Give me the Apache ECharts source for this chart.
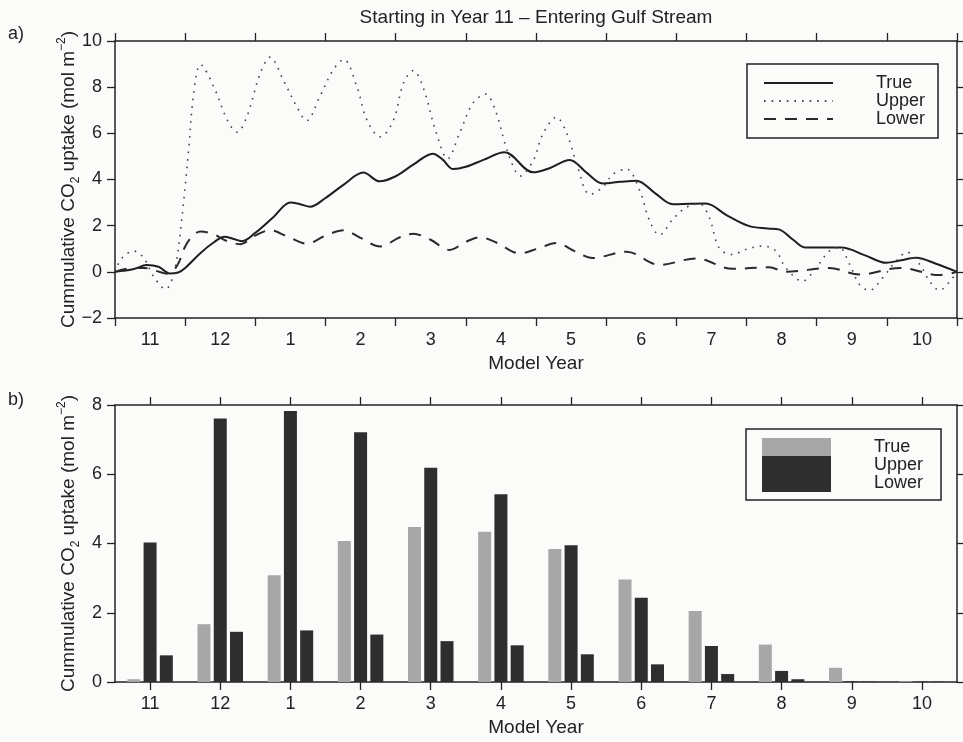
<!DOCTYPE html>
<html><head><meta charset="utf-8">
<script src="https://cdn.jsdelivr.net/npm/echarts@6.0.0/dist/echarts.min.js"></script>
<style>html,body{margin:0;padding:0;background:#fbfbfa;} #c{width:963px;height:742px;}</style>
</head><body><div id="c"></div>
<script>
// ---------- data ----------
const monthLabels = ['11','12','1','2','3','4','5','6','7','8','9','10'];

// panel a: months elapsed since start (0..12) and cumulative uptake
const trueX = [0,0.27,0.45,0.62,0.78,0.9,1.0,1.22,1.41,1.56,1.69,1.81,2.0,2.26,2.5,2.64,2.78,3.0,3.26,3.54,3.77,4.0,4.25,4.53,4.67,4.82,5.0,5.25,5.55,5.96,6.2,6.48,6.72,6.95,7.2,7.43,7.7,7.95,8.2,8.42,8.72,9.03,9.3,9.46,9.66,9.84,10.1,10.35,10.7,10.99,11.2,11.42,11.7,12];
const trueY = [0,0.12,0.3,0.22,-0.07,-0.03,0.17,0.82,1.28,1.52,1.42,1.33,1.69,2.38,3.0,2.93,2.82,3.2,3.78,4.3,3.92,4.14,4.64,5.12,4.86,4.45,4.55,4.85,5.18,4.31,4.5,4.85,4.3,3.83,3.9,3.95,3.4,2.93,2.95,2.96,2.45,1.99,1.88,1.84,1.4,1.05,1.05,1.05,0.7,0.39,0.5,0.61,0.35,0];

const upperX = [0,0.1,0.27,0.41,0.55,0.72,0.84,0.93,1.05,1.12,1.22,1.41,1.6,1.74,1.88,2.07,2.21,2.4,2.59,2.73,2.92,3.11,3.26,3.45,3.59,3.78,3.97,4.11,4.25,4.39,4.58,4.74,4.91,5.1,5.28,5.42,5.56,5.68,5.77,5.96,6.1,6.29,6.44,6.58,6.77,6.95,7.1,7.29,7.48,7.62,7.76,7.95,8.14,8.33,8.47,8.61,8.8,8.99,9.23,9.42,9.56,9.8,9.99,10.18,10.32,10.47,10.61,10.75,10.94,11.13,11.29,11.47,11.61,11.75,11.9,12];
const upperY = [0,0.6,0.9,0.6,-0.2,-0.75,-0.05,1.7,5.3,7.7,8.98,8.0,6.58,6.05,6.73,8.6,9.3,8.3,7.16,6.55,7.6,8.75,9.2,8.0,6.58,5.85,6.58,8.17,8.72,8.0,6.0,4.9,6.0,7.3,7.7,7.0,5.54,4.53,4.15,4.82,5.98,6.7,5.98,4.67,3.35,3.66,4.24,4.45,3.51,2.2,1.6,2.28,2.79,2.95,2.35,1.04,0.75,0.97,1.12,0.9,0.17,-0.4,0.17,0.9,1.05,0.32,-0.55,-0.8,-0.26,0.46,0.85,0.32,-0.41,-0.8,-0.41,0];

const lowerX = [0,0.27,0.41,0.6,0.74,0.88,1.0,1.12,1.22,1.41,1.6,1.79,1.98,2.21,2.45,2.73,3.02,3.26,3.5,3.78,4.06,4.25,4.49,4.77,5.0,5.2,5.44,5.77,6.02,6.29,6.55,6.8,7.29,7.76,8.28,8.8,9.32,9.56,10.18,10.61,11.19,11.75,12];
const lowerY = [0,0.17,0.17,0.03,-0.08,0.24,1.1,1.6,1.75,1.62,1.33,1.2,1.54,1.8,1.54,1.22,1.6,1.8,1.47,1.1,1.5,1.65,1.4,0.95,1.3,1.5,1.26,0.8,1.0,1.25,0.9,0.6,0.87,0.3,0.58,0.13,0.2,0.0,0.17,-0.12,0.17,-0.14,0];

// panel b: per-year values
const barTrue  = [0.08,1.67,3.08,4.07,4.48,4.34,3.84,2.96,2.05,1.08,0.41,0.02];
const barUpper = [4.03,7.61,7.83,7.21,6.19,5.42,3.95,2.43,1.04,0.32,0.02,0.01];
const barLower = [0.77,1.45,1.49,1.37,1.18,1.06,0.80,0.51,0.23,0.08,0.01,0.01];

// ---------- styling ----------
const FONT = "'Liberation Sans', Arial, Helvetica, sans-serif";
const INK = '#222';
const zip = (xs, ys) => xs.map((x, i) => [x, ys[i]]);

const lineAx = { show: true, onZero: false, lineStyle: { color: INK, width: 1.5 } };
const tickOut = { show: true, inside: false, length: 8, lineStyle: { color: INK, width: 1.3 } };
const lbl = { color: INK, fontSize: 18, fontFamily: FONT };
const nameLbl = { color: INK, fontSize: 19, fontFamily: FONT };
const yName = '{t|Cummulative CO}{sub|2}{t| uptake (mol m}{sup|\u22122}{t|)}';
const yNameStyle = {
  color: INK, fontFamily: FONT, fontSize: 19,
  rich: {
    t: { fontSize: 19, lineHeight: 26, fontFamily: FONT, color: INK },
    sub: { fontSize: 12, lineHeight: 12, verticalAlign: 'bottom', fontFamily: FONT, color: INK },
    sup: { fontSize: 12, lineHeight: 12, verticalAlign: 'top', fontFamily: FONT, color: INK }
  }
};
const minusFmt = v => String(v).replace('-', '\u2212');

const option = {
  animation: false,
  backgroundColor: '#fbfbfa',
  textStyle: { fontFamily: FONT },
  title: {
    text: 'Starting in Year 11 \u2013 Entering Gulf Stream',
    left: 536, top: 8, padding: 0, textAlign: 'center',
    textStyle: { fontSize: 19, fontWeight: 'normal', color: INK, fontFamily: FONT }
  },
  graphic: [
    { type: 'text', left: 8, top: 25, style: { text: 'a)', fontSize: 18, fill: INK, fontFamily: FONT } },
    { type: 'text', left: 8, top: 391, style: { text: 'b)', fontSize: 18, fill: INK, fontFamily: FONT } }
  ],
  grid: [
    { left: 115, top: 41, width: 842, height: 277 },
    { left: 115, top: 405, width: 842, height: 277 }
  ],
  legend: [
    {
      data: ['True', 'Upper', 'Lower'],
      orient: 'vertical', left: 747, top: 64,
      padding: [10, 13, 10, 16],
      itemWidth: 69, itemHeight: 18, itemGap: 0,
      itemStyle: { opacity: 0 },
      borderColor: INK, borderWidth: 1.5,
      textStyle: { color: INK, fontSize: 18, fontFamily: FONT, lineHeight: 18, padding: [0, 0, 0, 38] },
      selectedMode: false
    },
    {
      data: ['True ', 'Upper ', 'Lower '],
      orient: 'vertical', left: 746, top: 429,
      padding: [9, 13, 8, 16],
      icon: 'rect',
      itemWidth: 69, itemHeight: 18, itemGap: 0,
      borderColor: INK, borderWidth: 1.5,
      textStyle: { color: INK, fontSize: 18, fontFamily: FONT, lineHeight: 18, padding: [0, 0, 0, 38] },
      selectedMode: false
    }
  ],
  xAxis: [
    { // 0: data axis for panel a (ticks at month boundaries)
      type: 'value', gridIndex: 0, position: 'bottom', min: 0, max: 12, interval: 1,
      axisLine: lineAx, axisTick: tickOut, axisLabel: { show: false }, splitLine: { show: false },
      name: 'Model Year', nameLocation: 'middle', nameGap: 36, nameMoveOverlap: false, nameTextStyle: nameLbl
    },
    { // 1: month labels centred in each month
      type: 'category', gridIndex: 0, position: 'bottom', data: monthLabels, boundaryGap: true,
      axisLine: { show: false, onZero: false }, axisTick: { show: false }, axisLabel: Object.assign({ margin: 13 }, lbl)
    },
    { // 2: top frame with ticks
      type: 'value', gridIndex: 0, position: 'top', min: 0, max: 12, interval: 1,
      axisLine: lineAx, axisTick: tickOut, axisLabel: { show: false }, splitLine: { show: false }
    },
    { // 3: panel b categories
      type: 'category', gridIndex: 1, position: 'bottom', data: monthLabels, boundaryGap: true,
      axisLine: lineAx, axisTick: Object.assign({ alignWithLabel: true }, tickOut),
      axisLabel: Object.assign({ margin: 13 }, lbl),
      name: 'Model Year', nameLocation: 'middle', nameGap: 36, nameMoveOverlap: false, nameTextStyle: nameLbl
    },
    { // 4: panel b top frame
      type: 'category', gridIndex: 1, position: 'top', data: monthLabels, boundaryGap: true,
      axisLine: lineAx, axisTick: Object.assign({ alignWithLabel: true }, tickOut), axisLabel: { show: false }
    }
  ],
  yAxis: [
    {
      type: 'value', gridIndex: 0, position: 'left', min: -2, max: 10, interval: 2,
      axisLine: lineAx, axisTick: tickOut, splitLine: { show: false },
      axisLabel: Object.assign({ margin: 13, formatter: minusFmt }, lbl),
      name: yName, nameLocation: 'middle', nameGap: 33, nameMoveOverlap: false, nameTextStyle: yNameStyle
    },
    {
      type: 'value', gridIndex: 0, position: 'right', min: -2, max: 10, interval: 2,
      axisLine: lineAx, axisTick: tickOut, splitLine: { show: false }, axisLabel: { show: false }
    },
    {
      type: 'value', gridIndex: 1, position: 'left', min: 0, max: 8, interval: 2,
      axisLine: lineAx, axisTick: tickOut, splitLine: { show: false },
      axisLabel: Object.assign({ margin: 13 }, lbl),
      name: yName, nameLocation: 'middle', nameGap: 33, nameMoveOverlap: false, nameTextStyle: yNameStyle
    },
    {
      type: 'value', gridIndex: 1, position: 'right', min: 0, max: 8, interval: 2,
      axisLine: lineAx, axisTick: tickOut, splitLine: { show: false }, axisLabel: { show: false }
    }
  ],
  series: [
    {
      name: 'True', type: 'line', xAxisIndex: 0, yAxisIndex: 0, data: zip(trueX, trueY),
      smooth: 0.35, symbol: 'none', lineStyle: { color: '#1e1e1e', width: 2 }, itemStyle: { color: '#1e1e1e' }
    },
    {
      name: 'Upper', type: 'line', xAxisIndex: 0, yAxisIndex: 0, data: zip(upperX, upperY),
      smooth: 0.35, symbol: 'none', lineStyle: { color: '#444', width: 1.6, type: [1.6, 6] }, itemStyle: { color: '#444' }
    },
    {
      name: 'Lower', type: 'line', xAxisIndex: 0, yAxisIndex: 0, data: zip(lowerX, lowerY),
      smooth: 0.35, symbol: 'none', lineStyle: { color: '#2a2a2a', width: 2, type: [12, 9] }, itemStyle: { color: '#2a2a2a' }
    },
    {
      name: 'True ', type: 'bar', xAxisIndex: 3, yAxisIndex: 2, data: barTrue,
      barWidth: 13, barGap: '25%', itemStyle: { color: '#a7a7a7' }
    },
    {
      name: 'Upper ', type: 'bar', xAxisIndex: 3, yAxisIndex: 2, data: barUpper,
      barWidth: 13, barGap: '25%', itemStyle: { color: '#2e2e2e' }
    },
    {
      name: 'Lower ', type: 'bar', xAxisIndex: 3, yAxisIndex: 2, data: barLower,
      barWidth: 13, barGap: '25%', itemStyle: { color: '#2e2e2e' }
    }
  ]
};

const chart = echarts.init(document.getElementById('c'), null, { renderer: 'canvas' });
chart.setOption(option);
</script></body></html>
